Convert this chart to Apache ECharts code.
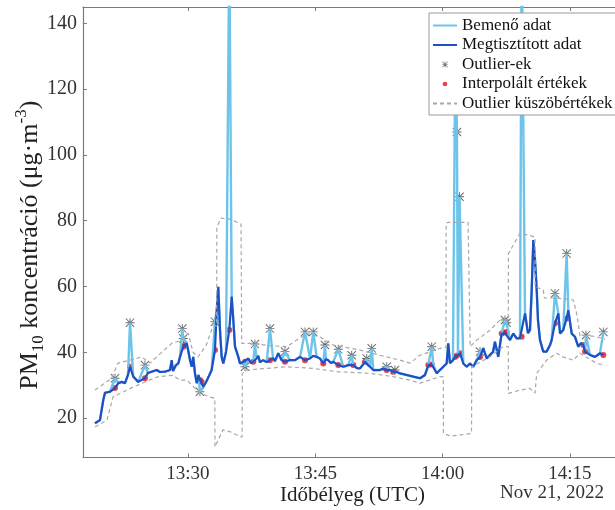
<!DOCTYPE html>
<html>
<head>
<meta charset="utf-8">
<script src="https://cdn.jsdelivr.net/npm/echarts@6/dist/echarts.min.js"></script>
<style>
  html, body { margin: 0; background: #fff; }
  #chart { width: 615px; height: 510px; }
</style>
</head>
<body>
<div id="chart"></div>
<script>
// time is in minutes after 13:00 UTC, values in µg/m3
const cleanT = [19.04,19.63,20.02,20.22,20.81,21.40,21.79,22.19,22.58,22.93,
  23.17,23.55,24.14,24.93,25.28,25.72,26.31,26.70,27.29,27.88,
  28.08,28.23,28.59,28.86,29.06,29.45,29.85,30.06,30.24,30.44,
  30.62,30.82,31.03,31.24,31.41,31.80,32.12,32.47,32.79,33.18,
  33.39,33.57,33.77,33.97,34.16,34.48,34.87,35.15,35.34,35.54,
  35.93,36.13,36.52,36.72,37.11,37.42,37.69,38.09,38.28,38.48,
  38.87,39.27,39.66,40.02,40.25,40.64,41.04,41.43,42.02,42.61,
  43.20,43.79,44.38,44.76,45.16,45.55,45.94,46.26,46.53,46.85,
  47.12,47.71,48.30,48.89,49.48,49.91,50.27,50.86,51.21,51.45,
  51.83,52.23,52.62,53.01,53.41,53.80,54.19,54.59,54.98,55.77,
  56.55,57.34,57.93,58.32,58.72,58.91,59.31,59.69,60.08,60.48,
  60.67,60.87,61.22,61.46,61.81,62.05,62.44,62.84,63.23,63.62,
  64.02,64.41,64.80,65.20,65.58,65.94,66.17,66.56,66.96,67.35,
  67.55,67.94,68.33,68.73,69.12,69.32,69.71,70.06,70.30,70.50,
  70.69,70.89,71.09,71.24,71.48,71.86,72.26,72.66,72.85,73.24,
  73.64,73.84,74.22,74.62,74.81,75.21,75.60,75.99,76.31,76.58,
  76.78,77.37,77.96,78.55,78.94];
const cleanV = [18.4,19.4,25.5,27.7,28.0,29.1,30.6,31.0,30.6,33.1,
  35.6,32.6,31.0,32.1,33.7,34.1,34.6,34.0,34.1,34.6,
  37.6,34.3,36.1,36.6,38.6,41.7,42.7,40.1,37.6,35.6,
  38.6,33.7,30.6,33.1,31.6,29.5,30.9,32.8,34.6,40.7,
  52.8,59.9,46.8,38.6,36.6,40.1,46.8,56.9,49.8,41.7,
  38.6,36.6,37.1,37.1,38.1,36.7,37.1,38.1,38.9,37.0,
  37.6,37.0,37.6,38.2,37.3,39.7,37.6,37.1,37.6,37.6,
  38.6,37.6,38.1,38.9,38.6,38.1,36.6,37.9,37.6,36.7,
  37.1,36.1,35.6,36.1,36.1,35.2,35.1,37.1,36.1,35.6,
  34.6,34.6,34.6,35.1,34.6,34.6,34.1,34.0,33.6,33.1,
  32.6,32.1,33.1,36.1,36.3,36.1,33.6,34.6,35.6,36.6,
  42.7,36.7,37.6,38.6,39.2,39.7,36.6,35.6,36.6,35.6,
  37.6,38.6,41.2,38.1,39.2,40.1,43.2,38.6,45.7,45.8,
  46.2,43.7,45.7,44.2,44.3,44.7,51.8,45.8,46.8,58.9,
  74.1,68.0,58.9,49.8,43.7,40.2,40.2,42.2,43.7,48.8,
  51.8,45.7,46.8,50.3,52.8,45.7,44.7,41.7,42.8,42.2,
  40.2,39.2,38.6,39.7,39.2];

// outliers in the input data (the raw line spikes to these)
const outT = [21.40,23.17,24.93,29.33,29.45,31.41,33.18,34.87,36.72,37.89,
  39.66,41.43,43.79,44.76,46.14,47.71,49.29,51.06,51.65,53.41,
  54.39,58.72,61.50,61.69,62.00,64.41,67.35,67.55,69.32,73.24,
  74.62,76.90,78.94];
const outV = [32.1,49.0,36.1,47.2,44.2,28.0,49.3,165,35.6,42.5,
  47.2,40.2,46.2,46.2,42.2,40.9,39.1,38.1,41.2,35.6,
  34.6,41.7,132,107,87.3,40.2,49.8,49.0,165,57.9,
  70.0,45.2,46.2];

// interpolated replacement values
const interpT = [21.40,23.17,24.93,29.45,29.66,31.41,31.60,33.18,34.87,36.72,
  37.69,39.66,41.43,43.79,45.94,47.71,49.48,50.86,53.41,54.19,
  58.32,58.72,61.46,61.70,62.05,64.41,66.96,67.20,67.55,69.32,
  73.24,74.62,76.58,76.78,78.94];
const interpV = [29.1,35.6,32.1,41.7,42.3,31.6,31.0,40.7,46.8,37.1,
  37.1,37.6,37.1,37.6,36.6,36.1,36.1,37.1,34.6,34.1,
  36.1,36.3,38.6,39.0,39.7,38.6,45.7,46.0,46.2,44.7,
  48.8,50.3,42.2,40.2,39.2];

// outlier thresholds
const upperT = [19.04,21.00,21.75,23.17,24.54,25.52,26.70,28.08,29.06,30.04,
  30.59,31.18,32.12,32.95,33.38,33.40,33.89,34.95,36.25,36.33,
  37.66,39.66,41.63,43.99,45.55,47.12,50.27,52.62,54.98,56.16,
  57.34,59.69,60.40,60.42,60.70,63.00,63.23,63.25,64.02,65.58,
  66.76,67.74,67.76,69.12,70.30,70.89,70.91,71.86,72.00,73.44,
  75.40,75.80,76.19,77.37,78.16,79.13];
const upperV = [28.5,32.1,36.7,37.6,38.6,36.7,39.5,42.7,43.5,45.8,
  40.0,38.6,42.0,48.0,48.0,78.0,80.8,80.5,79.0,42.7,
  42.7,42.0,41.7,45.7,44.7,42.2,40.7,39.1,37.6,36.7,
  39.1,41.2,41.5,79.3,79.5,79.5,79.3,41.7,43.7,46.7,
  49.8,50.0,70.0,76.2,75.5,75.0,60.0,58.9,56.5,56.5,
  55.9,51.8,45.0,45.0,44.7,44.0];
const lowerT = [19.04,20.46,21.16,23.52,26.35,28.23,29.06,29.88,31.06,31.41,
  32.59,33.16,33.18,34.12,35.00,36.13,36.38,36.40,36.91,41.63,
  44.76,47.52,51.45,54.15,56.16,57.34,59.69,60.08,60.10,61.00,
  62.50,63.41,63.43,65.58,67.12,67.74,67.76,69.12,70.30,70.89,
  71.09,72.26,73.44,74.18,75.40,76.19,76.97,78.16,79.13];
const lowerV = [17.3,19.4,26.4,29.4,32.5,33.0,31.5,31.5,28.5,27.6,
  26.4,26.0,11.2,16.4,15.8,14.3,14.3,33.5,34.6,35.6,
  35.1,34.1,33.6,32.6,31.5,30.6,32.6,32.5,15.3,14.5,
  15.0,15.3,35.6,38.6,41.7,41.7,27.5,28.5,29.0,27.6,
  33.6,37.6,39.7,38.6,37.6,39.7,38.5,36.6,36.0];

const xTicks = [30, 45, 60, 75];
const yTicks = [20, 40, 60, 80, 100, 120, 140];

const FONT = 'Liberation Serif';
const AXIS_GRAY = '#7a7a7a';
const STAR_SHAPE = 'M9,0h2v20h-2z M0,9h20v2h-20z M1.5,0L20,18.5L18.5,20L0,1.5z M18.5,0L20,1.5L1.5,20L0,18.5z';
const STAR = 'path://' + STAR_SHAPE;
// smaller versions for the legend (empty moveTo points pad the box)
const STAR_LEGEND = 'path://M-14,-14M34,34' + STAR_SHAPE;
const DOT_LEGEND = 'path://M-10,-10M20,20M0,5a5,5 0 1,0 10,0a5,5 0 1,0 -10,0z';

const pairs = (ts, vs) => ts.map((t, i) => [t, vs[i]]);

// input data = cleaned data with the outliers put back in place
const rawPts = pairs(cleanT, cleanV)
  .filter(p => !outT.some(t => Math.abs(t - p[0]) < 0.06))
  .concat(pairs(outT, outV))
  .sort((a, b) => a[0] - b[0]);

function timeLabel(v) {
  const h = 13 + Math.floor(v / 60);
  const m = Math.round(v % 60);
  return h + ':' + (m < 10 ? '0' + m : m);
}

const chart = echarts.init(document.getElementById('chart'));

const option = {
  animation: false,
  grid: { left: 83, top: 7, width: 539, height: 450.5, outerBoundsMode: 'none' },
  legend: {
    orient: 'vertical',
    left: 429,
    top: 13,
    backgroundColor: '#fff',
    borderColor: '#999',
    borderWidth: 1,
    padding: [4, 40, 3, 3],
    itemGap: 2.5,
    itemWidth: 24,
    itemHeight: 14,
    textStyle: { fontFamily: FONT, fontSize: 17, lineHeight: 17, color: '#111' },
    data: [
      { name: 'Bemenő adat', itemStyle: { opacity: 0 } },
      { name: 'Megtisztított adat', itemStyle: { opacity: 0 } },
      { name: 'Outlier-ek', icon: STAR_LEGEND },
      { name: 'Interpolált értékek', icon: DOT_LEGEND },
      { name: 'Outlier küszöbértékek', itemStyle: { opacity: 0 } }
    ]
  },
  xAxis: [
    {
      type: 'value', min: 17.63, max: 81.14, position: 'bottom',
      axisLine: { onZero: false, lineStyle: { color: AXIS_GRAY, width: 1.2 } },
      axisTick: { inside: true, length: 4, customValues: xTicks, lineStyle: { color: AXIS_GRAY } },
      axisLabel: { customValues: xTicks, formatter: timeLabel, margin: 7, color: '#333', fontFamily: FONT, fontSize: 19 },
      splitLine: { show: false },
      name: 'Időbélyeg (UTC)', nameLocation: 'middle', nameGap: 27, nameMoveOverlap: false,
      nameTextStyle: { fontFamily: FONT, fontSize: 21, color: '#222' }
    },
    {
      type: 'value', min: 17.63, max: 81.14, position: 'top',
      axisLine: { onZero: false, lineStyle: { color: AXIS_GRAY, width: 1.2 } },
      axisTick: { inside: true, length: 4, customValues: xTicks, lineStyle: { color: AXIS_GRAY } },
      axisLabel: { show: false },
      splitLine: { show: false }
    }
  ],
  yAxis: {
    type: 'value', min: 8, max: 145,
    axisLine: { show: true, lineStyle: { color: AXIS_GRAY, width: 1.2 } },
    axisTick: { show: true, inside: true, length: 4, customValues: yTicks, lineStyle: { color: AXIS_GRAY } },
    axisLabel: { customValues: yTicks, margin: 6, color: '#333', fontFamily: FONT, fontSize: 20 },
    splitLine: { show: false },
    name: '{a|PM}{s|10}{a| koncentráció (μg·m}{p|-3}{a|)}',
    nameLocation: 'middle', nameRotate: 90, nameGap: 36, nameMoveOverlap: false,
    nameTextStyle: {
      color: '#222',
      padding: [0, 26, 0, 0],
      rich: {
        a: { fontFamily: FONT, fontSize: 26, lineHeight: 34, color: '#222' },
        s: { fontFamily: FONT, fontSize: 17, lineHeight: 16, verticalAlign: 'bottom', color: '#222' },
        p: { fontFamily: FONT, fontSize: 17, lineHeight: 16, verticalAlign: 'top', color: '#222' }
      }
    }
  },
  graphic: [
    {
      type: 'text', left: 500, top: 484,
      style: { text: 'Nov 21, 2022', font: '19px "Liberation Serif"', fill: '#333' }
    }
  ],
  series: [
    {
      name: 'Bemenő adat', type: 'line', data: rawPts, showSymbol: false, symbol: 'none',
      lineStyle: { color: '#6cc4ea', width: 2.4 }, itemStyle: { color: '#6cc4ea' }
    },
    {
      name: 'Megtisztított adat', type: 'line', data: pairs(cleanT, cleanV), showSymbol: false, symbol: 'none',
      lineStyle: { color: '#1f4fc4', width: 2.2 }, itemStyle: { color: '#1f4fc4' }
    },
    {
      name: 'Outlier-ek', type: 'scatter', data: pairs(outT, outV),
      symbol: STAR, symbolSize: 9, itemStyle: { color: '#4d4d4d', opacity: 0.85 }
    },
    {
      name: 'Interpolált értékek', type: 'scatter', data: pairs(interpT, interpV),
      symbol: 'circle', symbolSize: 6, itemStyle: { color: '#e3121b' }
    },
    {
      name: 'Outlier küszöbértékek', type: 'line', data: pairs(upperT, upperV), showSymbol: false, symbol: 'none',
      lineStyle: { color: '#a8a8a8', width: 1.2, type: [4, 3] }, itemStyle: { color: '#a8a8a8' }
    },
    {
      name: 'Outlier küszöbértékek', type: 'line', data: pairs(lowerT, lowerV), showSymbol: false, symbol: 'none',
      lineStyle: { color: '#a8a8a8', width: 1.2, type: [4, 3] }, itemStyle: { color: '#a8a8a8' }
    }
  ]
};

chart.setOption(option);
</script>
</body>
</html>
